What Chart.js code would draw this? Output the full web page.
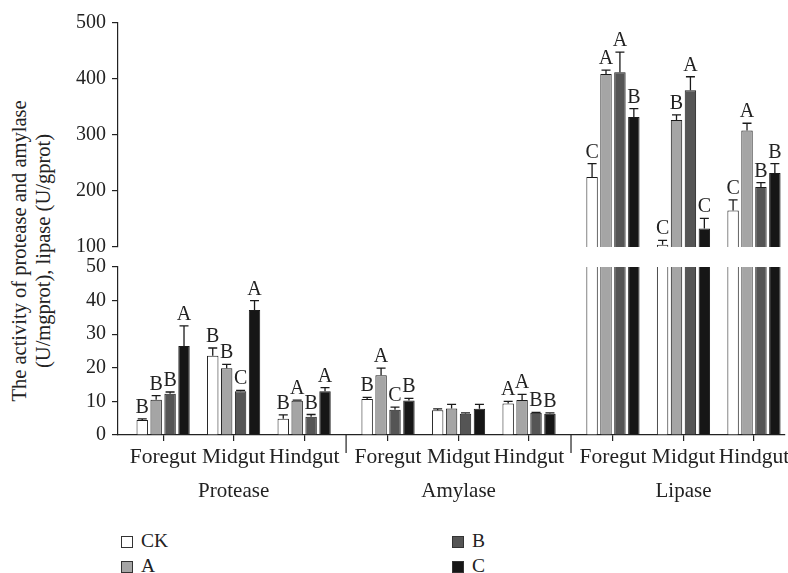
<!DOCTYPE html>
<html>
<head>
<meta charset="utf-8">
<script src="https://cdn.jsdelivr.net/npm/chart.js"></script>
<style>
  body { margin: 0; width: 788px; height: 573px; background: #fff; position: relative; overflow: hidden;
         font-family: 'Liberation Serif', serif; color: #222; }
  canvas { position: absolute; left: 0; }
  #upperChart { top: 0; }
  #lowerChart { top: 250px; }
  .ytitle { position: absolute; left: -139px; top: 227px; width: 340px; height: 48px; line-height: 24px;
            font-size: 20.5px; text-align: center; transform: rotate(-90deg); transform-origin: 50% 50%; white-space: nowrap; }
  .leg { position: absolute; font-size: 19.5px; line-height: 19px; }
  .leg span { display: inline-block; width: 10px; height: 10px; border: 1px solid #333; margin-right: 8px; vertical-align: -1px; }
</style>
</head>
<body>
<div class="ytitle">The activity of protease and amylase<br>(U/mgprot), lipase (U/gprot)</div>
<canvas id="upperChart" width="788" height="262"></canvas>
<canvas id="lowerChart" width="788" height="259"></canvas>
<div class="leg" style="left:121px; top:531px;"><span style="background:#fff"></span>CK</div>
<div class="leg" style="left:121px; top:556px;"><span style="background:#a5a5a5"></span>A</div>
<div class="leg" style="left:452px; top:531px;"><span style="background:#555555"></span>B</div>
<div class="leg" style="left:452px; top:556px;"><span style="background:#161616"></span>C</div>

<script>
// categories: 3 gut segments for each of 3 enzymes
const enzymes = ['Protease', 'Amylase', 'Lipase'];
const segments = ['Foregut', 'Midgut', 'Hindgut'];

// series values (order: protease F/M/H, amylase F/M/H, lipase F/M/H)
const ckValues = [4.5, 23.6, 4.8, 10.7, 7.4, 9.4, 225, 104, 165];
const ckErrors = [0.3, 2.3, 1.2, 0.5, 0.4, 0.6, 24, 8, 19];
const ckLetters = ['B', 'B', 'B', 'B', '', 'A', 'C', 'C', 'C'];

const aValues = [10.5, 19.9, 10.2, 17.8, 7.9, 10.4, 409, 327, 308];
const aErrors = [1.2, 1.1, 0.2, 2.1, 1.2, 1.7, 7, 9, 13];
const aLetters = ['B', 'B', 'A', 'A', '', 'A', 'A', 'B', 'A'];

const bValues = [12.3, 13.0, 5.4, 7.5, 6.3, 6.6, 412, 380, 207];
const bErrors = [0.5, 0.3, 0.7, 0.8, 0.3, 0.1, 36, 24, 8];
const bLetters = ['B', 'C', 'B', 'C', '', 'B', 'A', 'A', 'B'];

const cValues = [26.5, 37.2, 13.0, 10.3, 7.8, 6.3, 332, 133, 232];
const cErrors = [6.0, 2.8, 1.1, 0.6, 1.3, 0.3, 15, 18, 17];
const cLetters = ['A', 'A', 'A', 'B', '', 'B', 'B', 'C', 'B'];

// tick labels of the broken y axis
const upperTicks = [100, 200, 300, 400, 500];
const lowerTicks = [0, 10, 20, 30, 40, 50];

Chart.defaults.font.family = "'Liberation Serif', serif";
Chart.defaults.font.size = 20;
Chart.defaults.color = '#222';

// slot of each category on the x scale, with a small extra gap between enzymes
const groupGap = 0.19;
const catX = [];
enzymes.forEach((e, g) => segments.forEach((s, i) => catX.push(g * (3 + groupGap) + i + 1)));
const catNames = [];
enzymes.forEach(() => segments.forEach(s => catNames.push(s)));
const xMin = catX[0] - 0.64;
const xMax = catX[catX.length - 1] + 0.44;

const series = [
    { label: 'CK', values: ckValues, errors: ckErrors, letters: ckLetters, color: '#ffffff' },
    { label: 'A', values: aValues, errors: aErrors, letters: aLetters, color: '#a5a5a5' },
    { label: 'B', values: bValues, errors: bErrors, letters: bLetters, color: '#555555' },
    { label: 'C', values: cValues, errors: cErrors, letters: cLetters, color: '#161616' },
];

function makeDatasets() {
    return series.map(s => ({
        label: s.label,
        data: s.values.map((v, i) => ({ x: catX[i], y: v })),
        backgroundColor: s.color,
        borderColor: '#1a1a1a',
        borderWidth: 1,
        categoryPercentage: 0.79,
        barPercentage: 0.82,
        clip: 0,
    }));
}

// error bars + significance letters, only where the bar top is inside this panel
const errorBarPlugin = {
    id: 'errorBars',
    afterDatasetsDraw(chart) {
        const ctx = chart.ctx;
        const ys = chart.scales.y;
        ctx.save();
        ctx.strokeStyle = '#1a1a1a';
        ctx.lineWidth = 1.3;
        ctx.fillStyle = '#222';
        ctx.font = "20px 'Liberation Serif', serif";
        ctx.textAlign = 'center';
        ctx.textBaseline = 'alphabetic';
        series.forEach((s, di) => {
            const meta = chart.getDatasetMeta(di);
            meta.data.forEach((bar, i) => {
                const v = s.values[i];
                if (v <= ys.min || v >= ys.max) return;
                const yTop = ys.getPixelForValue(v);
                const yCap = ys.getPixelForValue(v + s.errors[i]);
                ctx.beginPath();
                ctx.moveTo(bar.x, yTop);
                ctx.lineTo(bar.x, yCap);
                ctx.moveTo(bar.x - 4.5, yCap);
                ctx.lineTo(bar.x + 4.5, yCap);
                ctx.stroke();
                if (s.letters[i]) ctx.fillText(s.letters[i], bar.x, yCap - 6);
            });
        });
        ctx.restore();
    }
};

// longer ticks separating the enzyme groups
const separatorPlugin = {
    id: 'separators',
    afterDraw(chart) {
        const xs = chart.scales.x;
        const ctx = chart.ctx;
        const bottom = chart.chartArea.bottom;
        ctx.save();
        ctx.strokeStyle = '#222';
        ctx.lineWidth = 1.2;
        for (let g = 1; g < enzymes.length; g++) {
            const px = xs.getPixelForValue((catX[g * 3 - 1] + catX[g * 3]) / 2);
            ctx.beginPath();
            ctx.moveTo(px, bottom);
            ctx.lineTo(px, bottom + 18);
            ctx.stroke();
        }
        ctx.restore();
    }
};

function yAxis(ticks) {
    return {
        type: 'linear',
        min: ticks[0],
        max: ticks[ticks.length - 1],
        afterBuildTicks: scale => { scale.ticks = ticks.map(v => ({ value: v })); },
        afterFit: scale => { scale.width = 118; scale.paddingTop = 0; scale.paddingBottom = 0; },
        grid: { drawOnChartArea: false, drawTicks: true, tickLength: 6, color: '#222', lineWidth: 1.2 },
        border: { display: true, color: '#222', width: 1.2 },
        ticks: { padding: 6, color: '#222' },
    };
}

const upperChart = new Chart(document.getElementById('upperChart'), {
    type: 'bar',
    data: { datasets: makeDatasets() },
    options: {
        responsive: false,
        animation: false,
        layout: { padding: { top: 23, bottom: 15, right: 3, left: 0 } },
        plugins: { legend: { display: false }, tooltip: { enabled: false } },
        scales: {
            x: { type: 'linear', min: xMin, max: xMax, offset: false, grid: { offset: false }, display: false },
            y: yAxis(upperTicks),
        }
    },
    plugins: [errorBarPlugin]
});

const lowerChart = new Chart(document.getElementById('lowerChart'), {
    type: 'bar',
    data: { datasets: makeDatasets() },
    options: {
        responsive: false,
        animation: false,
        layout: { padding: { top: 17, bottom: 0, right: 3, left: 0 } },
        plugins: { legend: { display: false }, tooltip: { enabled: false } },
        scales: {
            x: {
                type: 'linear', min: xMin, max: xMax, position: 'bottom', weight: 0, offset: false,
                afterBuildTicks: scale => { scale.ticks = catX.map(v => ({ value: v })); },
                afterFit: scale => { scale.height = 34; scale.paddingLeft = 0; scale.paddingRight = 0; },
                grid: { offset: false, drawOnChartArea: false, drawTicks: true, tickLength: 6, color: '#222', lineWidth: 1.2 },
                border: { display: true, color: '#222', width: 1.2 },
                ticks: {
                    padding: 3, autoSkip: false, maxRotation: 0, color: '#222', font: { size: 21.5 },
                    callback: (value, index) => catNames[index]
                },
            },
            x2: {
                type: 'linear', min: xMin, max: xMax, position: 'bottom', weight: 1, offset: false,
                afterBuildTicks: scale => { scale.ticks = enzymes.map((e, g) => ({ value: catX[g * 3 + 1] })); },
                afterFit: scale => { scale.height = 40; scale.paddingLeft = 0; scale.paddingRight = 0; },
                grid: { offset: false, display: false, drawTicks: false },
                border: { display: false },
                ticks: {
                    padding: 10, autoSkip: false, maxRotation: 0, color: '#222', font: { size: 21 },
                    callback: (value, index) => enzymes[index]
                },
            },
            y: yAxis(lowerTicks),
        }
    },
    plugins: [errorBarPlugin, separatorPlugin]
});
</script>
</body>
</html>
